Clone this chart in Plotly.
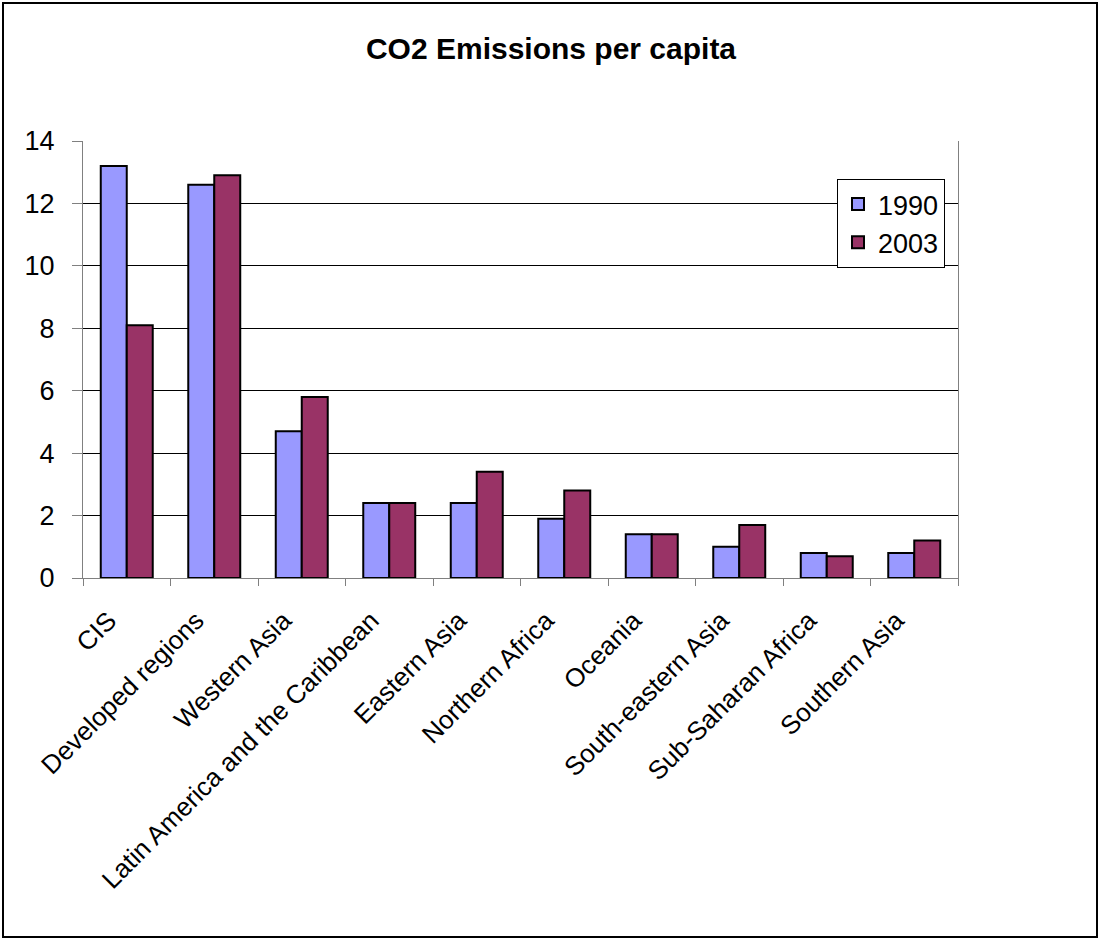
import plotly.graph_objects as go

categories = ["CIS", "Developed regions", "Western Asia", "Latin America and the Caribbean",
              "Eastern Asia", "Northern Africa", "Oceania", "South-eastern Asia",
              "Sub-Saharan Africa", "Southern Asia"]
values_1990 = [13.2, 12.6, 4.7, 2.4, 2.4, 1.9, 1.4, 1.0, 0.8, 0.8]
values_2003 = [8.1, 12.9, 5.8, 2.4, 3.4, 2.8, 1.4, 1.7, 0.7, 1.2]
y_ticks = [0, 2, 4, 6, 8, 10, 12, 14]

FONT = "Liberation Sans, Arial, sans-serif"

W, H = 1100, 940
L, R, T, B = 83, 958, 141, 578
pw, ph = R - L, B - T

fig = go.Figure()
fig.add_trace(go.Bar(x=categories, y=values_1990, name="1990",
                     marker=dict(color="#9999FF", line=dict(color="#000000", width=2))))
fig.add_trace(go.Bar(x=categories, y=values_2003, name="2003",
                     marker=dict(color="#993366", line=dict(color="#000000", width=2))))

def px(x):
    return (x - L) / pw

def py(y):
    return (B - y) / ph

fig.update_layout(
    width=W, height=H,
    margin=dict(l=L, r=W - R, t=T, b=H - B, autoexpand=False),
    paper_bgcolor="white", plot_bgcolor="white",
    barmode="group", bargap=0.406, bargroupgap=0,
    font=dict(family=FONT, size=26, color="#000000"),
    title=dict(text="<b>CO2 Emissions per capita</b>", x=(357 + 745) / 2 / W, xanchor="center",
               y=1 - 48 / H, yanchor="middle", font=dict(family=FONT, size=30, color="#000000")),
    showlegend=True,
    legend=dict(x=px(837), y=py(179), xanchor="left", yanchor="top",
                bgcolor="white", bordercolor="#000000", borderwidth=1,
                font=dict(family=FONT, size=27), tracegroupgap=0, itemwidth=30),
    xaxis=dict(type="category", showline=True, linecolor="#808080", linewidth=1,
               ticks="outside", ticklen=7, tickcolor="#808080", tickson="boundaries",
               tickangle=-45, tickfont=dict(family=FONT, size=26), showgrid=False,
               ticklabelshift=-18, ticklabelstandoff=16, mirror=False),
    yaxis=dict(range=[0, 14], tickvals=y_ticks, showline=True, linecolor="#808080", linewidth=1,
               ticks="outside", ticklen=10, tickcolor="#808080", showgrid=True,
               gridcolor="#000000", gridwidth=1, zeroline=False, mirror=True,
               ticklabelstandoff=12, tickfont=dict(family=FONT, size=27)),
    shapes=[dict(type="rect", xref="paper", yref="paper",
                 x0=px(3), x1=px(1097), y0=py(937), y1=py(3),
                 line=dict(color="#000000", width=2), fillcolor="rgba(0,0,0,0)", layer="below")],
)

fig.write_html("out.html")
